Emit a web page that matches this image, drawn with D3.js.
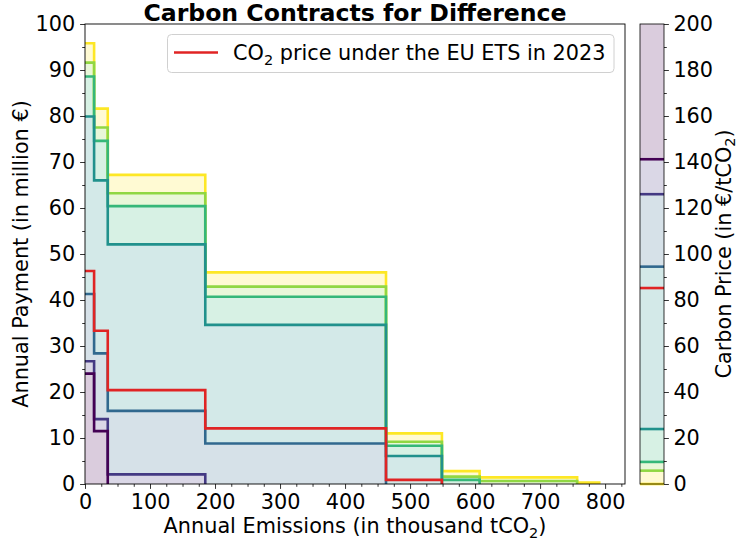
<!DOCTYPE html>
<html><head><meta charset="utf-8">
<script src="https://cdn.jsdelivr.net/npm/d3@7"></script>
<style>body{margin:0;background:#fff}svg{display:block}text{font-family:"DejaVu Sans",sans-serif;fill:#000}</style>
</head><body><svg id="c" width="737" height="545"></svg>
<script>
// cumulative emission boundaries (thousand tCO2)
const xBounds = [0, 14, 35, 185, 463, 549, 607, 757, 791];
// carbon price levels (EUR/tCO2), low to high
const prices = [0, 5.8, 9.6, 23.9, 94.5, 126, 141.2];
// annual payment (million EUR) per emission interval, one array per price level
const pay0   = [95.8, 81.6, 67.2, 46.0, 11.0, 2.8, 1.45, 0.3];
const pay6   = [91.6, 77.5, 63.2, 42.9, 9.2, 1.6, 0.65, 0];
const pay10  = [88.6, 74.6, 60.4, 40.7, 8.3, 0.9, 0, 0];
const pay24  = [79.9, 66.0, 52.1, 34.6, 6.1, 0, 0, 0];
const pay95  = [41.3, 28.4, 15.9, 8.8, 0, 0, 0, 0];
const pay126 = [26.7, 14.1, 2.1, 0, 0, 0, 0, 0];
const pay141 = [24.0, 11.5, 0, 0, 0, 0, 0, 0];
// EU ETS 2023 price and payment
const etsPrice = 85.2;
const payEts = [46.3, 33.3, 20.4, 12.1, 0.9, 0, 0, 0];
const xTicks = [0, 100, 200, 300, 400, 500, 600, 700, 800];
const yTicks = [0, 10, 20, 30, 40, 50, 60, 70, 80, 90, 100];
const cTicks = [0, 20, 40, 60, 80, 100, 120, 140, 160, 180, 200];

const series = [pay0, pay6, pay10, pay24, pay95, pay126, pay141];
const colors = prices.map((p, i) => d3.interpolateViridis(1 - i / (prices.length - 1)));
const red = "#e02424";
const FS = 20.8;

const svg = d3.select("#c");
const L = 85, R = 625, T = 24, B = 484;
const x = d3.scaleLinear().domain([0, 830.6]).range([L, R]);
const y = d3.scaleLinear().domain([0, 100]).range([B, T]);

const g = svg.append("g");
// fills between consecutive levels
series.forEach((s, i) => {
  const lower = i + 1 < series.length ? series[i + 1] : s.map(() => 0);
  const pts = s.map((v, k) => ({x: xBounds[k], y1: v, y0: lower[k]}));
  pts.push({x: xBounds[xBounds.length - 1], y1: 0, y0: 0});
  const area = d3.area().curve(d3.curveStepAfter)
    .x(d => x(d.x)).y0(d => y(d.y0)).y1(d => y(d.y1));
  g.append("path").attr("d", area(pts)).attr("fill", colors[i]).attr("fill-opacity", 0.2);
});

function stepLine(s) {
  let n = s.length;
  while (n > 0 && s[n - 1] === 0) n--;
  const pts = [];
  for (let k = 0; k < n; k++) pts.push([xBounds[k], s[k]]);
  pts.push([xBounds[n], 0]);
  return d3.line().curve(d3.curveStepAfter).x(d => x(d[0])).y(d => y(d[1]))(pts);
}
series.forEach((s, i) => {
  g.append("path").attr("d", stepLine(s)).attr("fill", "none")
    .attr("stroke", colors[i]).attr("stroke-width", 2.6).attr("stroke-linejoin", "miter");
});
g.append("path").attr("d", stepLine(payEts)).attr("fill", "none")
  .attr("stroke", red).attr("stroke-width", 2.6);

// axes
const xAxis = d3.axisBottom(x).tickValues(xTicks).tickSize(4.9).tickPadding(4.9);
const xa = svg.append("g").attr("transform", `translate(0,${B})`).call(xAxis);
const yAxis = d3.axisLeft(y).tickValues(yTicks).tickSize(4.9).tickPadding(4.9);
const ya = svg.append("g").attr("transform", `translate(${L},0)`).call(yAxis);
// minor ticks
const xMinor = d3.range(0, 826, 25).filter(v => v % 100 !== 0);
svg.append("g").attr("transform", `translate(0,${B})`).call(d3.axisBottom(x).tickValues(xMinor).tickSize(2.8).tickFormat(""));
const yMinor = d3.range(5, 100, 10);
svg.append("g").attr("transform", `translate(${L},0)`).call(d3.axisLeft(y).tickValues(yMinor).tickSize(2.8).tickFormat(""));
svg.selectAll(".domain").remove();
svg.selectAll(".tick line").attr("stroke", "#000").attr("stroke-width", 0.8);
xa.selectAll("text").attr("font-size", FS).attr("font-family", "DejaVu Sans");
ya.selectAll("text").attr("font-size", FS).attr("font-family", "DejaVu Sans");
svg.append("rect").attr("x", L).attr("y", T).attr("width", R - L).attr("height", B - T)
  .attr("fill", "none").attr("stroke", "#000").attr("stroke-width", 0.9);

// title and labels
svg.append("text").attr("x", (L + R) / 2).attr("y", 21).attr("text-anchor", "middle")
  .attr("font-size", 23.6).attr("font-weight", "bold").text("Carbon Contracts for Difference");
const xl = svg.append("text").attr("x", (L + R) / 2).attr("y", 533).attr("text-anchor", "middle").attr("font-size", FS);
xl.append("tspan").text("Annual Emissions (in thousand tCO");
xl.append("tspan").attr("font-size", 14.5).attr("dy", 4.5).text("2");
xl.append("tspan").attr("dy", -4.5).text(")");
svg.append("text").attr("transform", `translate(28,${(T + B) / 2}) rotate(-90)`).attr("text-anchor", "middle")
  .attr("font-size", FS).text("Annual Payment (in million €)");

// legend
const lg = svg.append("g");
lg.append("rect").attr("x", 167.5).attr("y", 34.5).attr("width", 446.5).attr("height", 38).attr("rx", 4)
  .attr("fill", "#fff").attr("fill-opacity", 0.8).attr("stroke", "#d0d0d0").attr("stroke-width", 1);
lg.append("line").attr("x1", 174).attr("x2", 218).attr("y1", 52.5).attr("y2", 52.5).attr("stroke", red).attr("stroke-width", 2.6);
const lt = lg.append("text").attr("x", 233).attr("y", 60).attr("font-size", FS);
lt.append("tspan").text("CO");
lt.append("tspan").attr("font-size", 14.5).attr("dy", 4.5).text("2");
lt.append("tspan").attr("dy", -4.5).text(" price under the EU ETS in 2023");

// colorbar
const cL = 640, cR = 664;
const c = d3.scaleLinear().domain([0, 200]).range([B, T]);
const cg = svg.append("g");
prices.forEach((p, i) => {
  const top = i + 1 < prices.length ? prices[i + 1] : 200;
  cg.append("rect").attr("x", cL).attr("width", cR - cL).attr("y", c(top)).attr("height", c(p) - c(top))
    .attr("fill", colors[i]).attr("fill-opacity", 0.2);
});
prices.forEach((p, i) => {
  cg.append("line").attr("x1", cL).attr("x2", cR).attr("y1", c(p)).attr("y2", c(p))
    .attr("stroke", colors[i]).attr("stroke-width", 2.6);
});
cg.append("line").attr("x1", cL).attr("x2", cR).attr("y1", c(etsPrice)).attr("y2", c(etsPrice))
  .attr("stroke", red).attr("stroke-width", 2.6);
const ca = svg.append("g").attr("transform", `translate(${cR},0)`)
  .call(d3.axisRight(c).tickValues(cTicks).tickSize(4.9).tickPadding(4.5));
svg.append("g").attr("transform", `translate(${cR},0)`)
  .call(d3.axisRight(c).tickValues(d3.range(10, 200, 20)).tickSize(2.8).tickFormat(""));
svg.selectAll(".domain").remove();
svg.selectAll(".tick line").attr("stroke", "#000").attr("stroke-width", 0.8);
ca.selectAll("text").attr("font-size", FS).attr("font-family", "DejaVu Sans");
svg.append("rect").attr("x", cL).attr("y", T).attr("width", cR - cL).attr("height", B - T)
  .attr("fill", "none").attr("stroke", "#000").attr("stroke-width", 0.8);
const cl = svg.append("text").attr("transform", `translate(730.5,${(T + B) / 2}) rotate(-90)`)
  .attr("text-anchor", "middle").attr("font-size", FS);
cl.append("tspan").text("Carbon Price (in €/tCO");
cl.append("tspan").attr("font-size", 14.5).attr("dy", 4.5).text("2");
cl.append("tspan").attr("dy", -4.5).text(")");
</script></body></html>
